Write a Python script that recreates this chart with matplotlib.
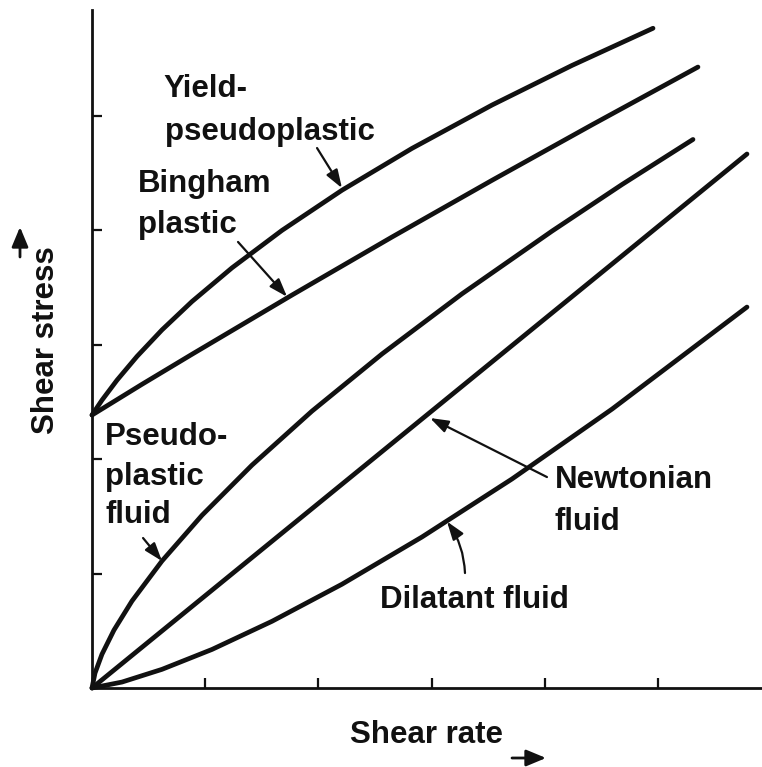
import matplotlib
matplotlib.use('Agg')
import matplotlib.pyplot as plt

plt.rcParams['font.family'] = ['Liberation Sans', 'DejaVu Sans']

# ---- data (chart units; one tick interval = 1) ----
yield_x = [0, 0.088, 0.221, 0.398, 0.618, 0.883, 1.237, 1.678, 2.208, 2.827, 3.534, 4.240, 4.956]
yield_y = [2.386, 2.516, 2.691, 2.899, 3.130, 3.378, 3.673, 4.000, 4.351, 4.717, 5.096, 5.442, 5.767]

bingham_x = [0, 0.442, 0.883, 1.767, 2.650, 3.534, 4.417, 5.353]
bingham_y = [2.386, 2.655, 2.917, 3.435, 3.942, 4.438, 4.923, 5.428]

pseudo_x = [0, 0.0265, 0.088, 0.194, 0.353, 0.618, 0.972, 1.413, 1.943, 2.562, 3.269, 4.064, 4.682, 5.309]
pseudo_y = [0, 0.130, 0.295, 0.506, 0.760, 1.110, 1.510, 1.948, 2.420, 2.920, 3.446, 3.994, 4.401, 4.795]

newton_x = [0, 5.786]
newton_y = [0, 4.668]

dilatant_x = [0, 0.265, 0.618, 1.060, 1.590, 2.208, 2.915, 3.710, 4.594, 5.786]
dilatant_y = [0, 0.052, 0.163, 0.337, 0.583, 0.907, 1.320, 1.827, 2.438, 3.330]

x_ticks = [1, 2, 3, 4, 5]
y_ticks = [1, 2, 3, 4, 5]

x_label = 'Shear rate'
y_label = 'Shear stress'

# label lines: (text, x, baseline y)
label_lines = [
    ('Yield-', 0.627, 5.166),
    ('pseudoplastic', 0.645, 4.790),
    ('Bingham', 0.406, 4.336),
    ('plastic', 0.406, 3.977),
    ('Pseudo-', 0.115, 2.124),
    ('plastic', 0.115, 1.774),
    ('fluid', 0.115, 1.442),
    ('Newtonian', 4.090, 1.748),
    ('fluid', 4.090, 1.381),
    ('Dilatant fluid', 2.544, 0.699),
]

# callout arrows: (tail x, tail y, head x, head y, curvature)
callouts = [
    (1.988, 4.720, 2.208, 4.370, 0.0),
    (1.290, 3.899, 1.723, 3.420, 0.0),
    (0.451, 1.311, 0.618, 1.110, 0.0),
    (4.019, 1.844, 2.986, 2.360, 0.0),
    (3.295, 1.005, 3.136, 1.455, 0.15),
]

W, H = 762, 767
fig = plt.figure(figsize=(W / 100, H / 100), dpi=100)
ax = fig.add_axes([92 / W, (H - 688) / H, 670 / W, 678 / H])
ax.set_xlim(0, 670 / 113.2)
ax.set_ylim(0, 678 / 114.4)

line_kw = dict(color='#111111', lw=3.4, solid_capstyle='round',
               solid_joinstyle='round', clip_on=False)
for xs, ys in [(yield_x, yield_y), (bingham_x, bingham_y), (pseudo_x, pseudo_y),
               (newton_x, newton_y), (dilatant_x, dilatant_y)]:
    ax.plot(xs, ys, **line_kw)

for s in ['top', 'right']:
    ax.spines[s].set_visible(False)
for s in ['left', 'bottom']:
    ax.spines[s].set_linewidth(2.0)
    ax.spines[s].set_color('#111111')

ax.set_xticks(x_ticks)
ax.set_yticks(y_ticks)
ax.set_xticklabels([])
ax.set_yticklabels([])
ax.tick_params(direction='in', length=7.5, width=1.6, color='#111111')

text_kw = dict(fontsize=22.5, fontweight='bold', color='#111111')
for txt, x, y in label_lines:
    ax.text(x, y, txt, ha='left', va='baseline', **text_kw)

for tx, ty, hx, hy, rad in callouts:
    ax.annotate('', xy=(hx, hy), xytext=(tx, ty),
                arrowprops=dict(arrowstyle='-|>,head_length=1.1,head_width=0.38',
                                mutation_scale=10, lw=1.6, color='#111111',
                                shrinkA=0, shrinkB=0,
                                connectionstyle=f'arc3,rad={rad}'))

fig.text(350 / W, (H - 743) / H, x_label, ha='left', va='baseline', **text_kw)
fig.text(46 / W, (H - 340) / H, y_label, ha='center', va='center',
         rotation=90, **text_kw)

ax.annotate('', xy=(546, H - 758), xytext=(512, H - 758),
            xycoords='figure pixels', textcoords='figure pixels',
            arrowprops=dict(arrowstyle='-|>,head_length=1.2,head_width=0.5',
                            mutation_scale=10, lw=2.0, color='#111111',
                            shrinkA=0, shrinkB=0))
ax.annotate('', xy=(20, H - 227), xytext=(20, H - 257),
            xycoords='figure pixels', textcoords='figure pixels',
            arrowprops=dict(arrowstyle='-|>,head_length=1.2,head_width=0.5',
                            mutation_scale=10, lw=2.0, color='#111111',
                            shrinkA=0, shrinkB=0))

fig.savefig('out.png', dpi=100, facecolor='white')
